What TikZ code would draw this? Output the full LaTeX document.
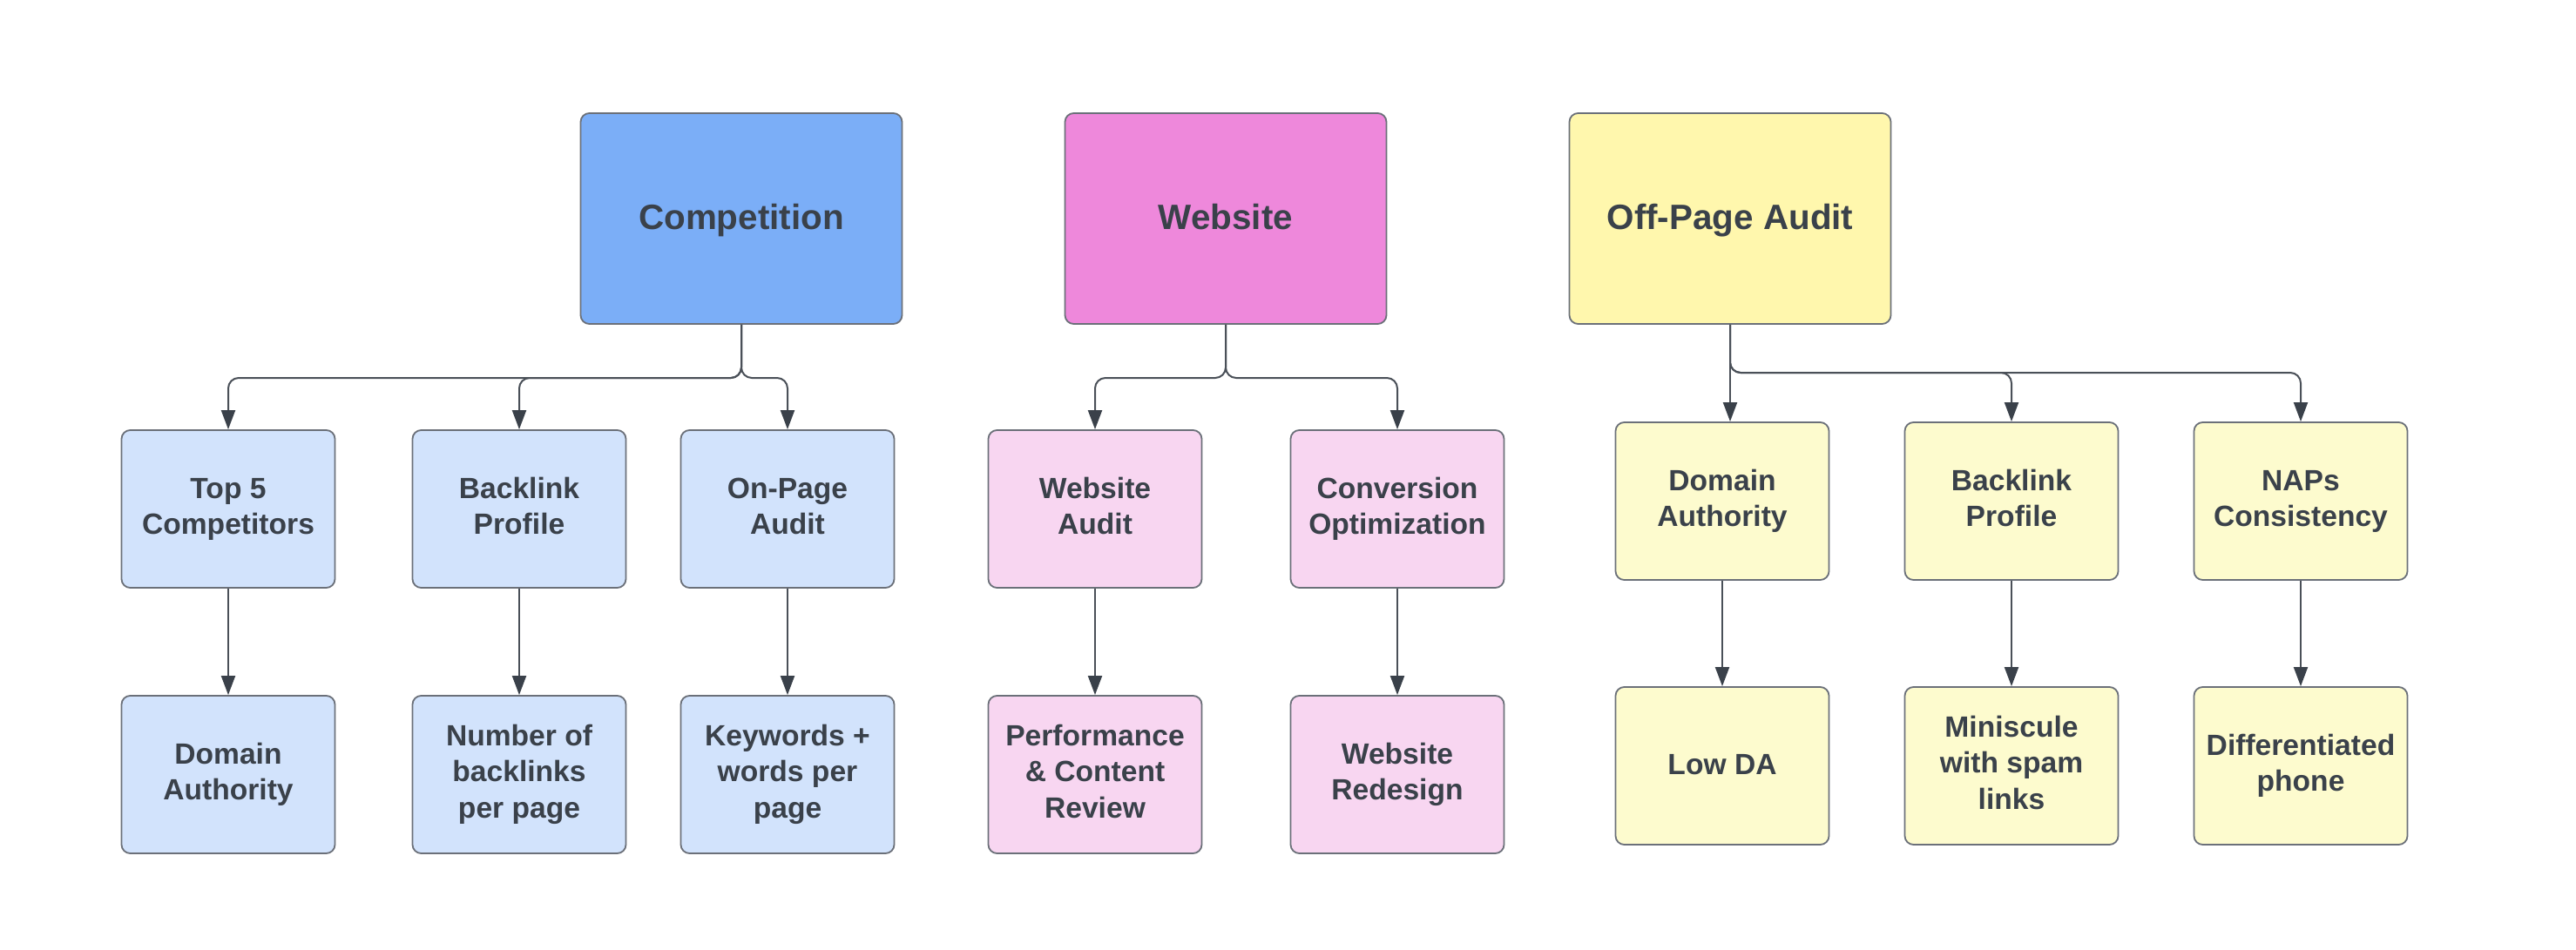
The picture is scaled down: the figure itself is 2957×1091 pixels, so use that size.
\documentclass[tikz,border=0pt]{standalone}
\usepackage{fontspec}
\setmainfont{Liberation Sans}
\usetikzlibrary{arrows.meta}
\definecolor{textdark}{HTML}{3A414A}
\definecolor{bordergray}{HTML}{6B7079}
\definecolor{linegray}{HTML}{4A5058}
\definecolor{compTop}{HTML}{7BAEF7}
\definecolor{compSub}{HTML}{D2E3FC}
\definecolor{webTop}{HTML}{EE88DB}
\definecolor{webSub}{HTML}{F8D6F1}
\definecolor{offTop}{HTML}{FFF7AD}
\definecolor{offSub}{HTML}{FDFBCE}
\newcommand\topstrutx[1]{\rule{0pt}{\dimexpr0.7\baselineskip+#1\relax}}
\newcommand\lbl[1]{\begin{tabular}{@{}c@{}}\topstrutx{3.5pt}#1\end{tabular}}
\tikzset{
  basebox/.style={draw=bordergray, line width=0.9pt, rounded corners=5pt,
    text=textdark, inner sep=0pt, font=\bfseries\fontsize{16.8}{20.8}\selectfont},
  topbox/.style={basebox, minimum width=184.5pt, minimum height=121pt,
    font=\bfseries\fontsize{20.2}{24}\selectfont, text height=17pt, text depth=4pt},
  subbox/.style={basebox, minimum width=122.5pt, minimum height=90.5pt},
  oneline/.style={text height=14.5pt, text depth=5pt},
  conn/.style={draw=linegray, line width=1pt, rounded corners=6pt,
    -{Triangle[length=11pt,width=8pt,color=textdark]}},
}
\begin{document}
\begin{tikzpicture}[x=0.5pt,y=-0.5pt]
\useasboundingbox[fill=white] (0,0) rectangle (2957,1091);
% top boxes
\node[topbox, fill=compTop] (comp) at (851,251) {Competition};
\node[topbox, fill=webTop] (web) at (1407,251) {Website};
\node[topbox, fill=offTop] (off) at (1986,251) {Off-Page Audit};
% competition children
\node[subbox, fill=compSub] (c1) at (262,584.5) {\lbl{Top 5\\Competitors}};
\node[subbox, fill=compSub] (c2) at (596,584.5) {\lbl{Backlink\\Profile}};
\node[subbox, fill=compSub] (c3) at (904,584.5) {\lbl{On-Page\\Audit}};
\node[subbox, fill=compSub] (g1) at (262,889.5) {\lbl{Domain\\Authority}};
\node[subbox, fill=compSub] (g2) at (596,889.5) {\lbl{Number of\\backlinks\\per page}};
\node[subbox, fill=compSub] (g3) at (904,889.5) {\lbl{Keywords +\\words per\\page}};
% website children
\node[subbox, fill=webSub] (w1) at (1257,584.5) {\lbl{Website\\Audit}};
\node[subbox, fill=webSub] (w2) at (1604,584.5) {\lbl{Conversion\\Optimization}};
\node[subbox, fill=webSub] (v1) at (1257,889.5) {\lbl{Performance\\\& Content\\Review}};
\node[subbox, fill=webSub] (v2) at (1604,889.5) {\lbl{Website\\Redesign}};
% off-page children
\node[subbox, fill=offSub] (o1) at (1977,575.5) {\lbl{Domain\\Authority}};
\node[subbox, fill=offSub] (o2) at (2309,575.5) {\lbl{Backlink\\Profile}};
\node[subbox, fill=offSub] (o3) at (2641,575.5) {\lbl{NAPs\\Consistency}};
\node[subbox, oneline, fill=offSub] (p1) at (1977,879.5) {Low DA};
\node[subbox, fill=offSub] (p2) at (2309,879.5) {\lbl{Miniscule\\with spam\\links}};
\node[subbox, fill=offSub] (p3) at (2641,879.5) {\lbl{Differentiated\\phone}};
% branch points
\coordinate (cb) at (851,434);
\coordinate (wb) at (1407,434);
\coordinate (ob) at (1986,428);
% competition connectors
\draw[conn] (comp.south) -- (cb) -| (c1.north);
\draw[conn] (comp.south) -- (cb) -| (c2.north);
\draw[conn] (comp.south) -- (cb) -| (c3.north);
\draw[conn] (c1) -- (g1);
\draw[conn] (c2) -- (g2);
\draw[conn] (c3) -- (g3);
% website connectors
\draw[conn] (web.south) -- (wb) -| (w1.north);
\draw[conn] (web.south) -- (wb) -| (w2.north);
\draw[conn] (w1) -- (v1);
\draw[conn] (w2) -- (v2);
% off-page connectors
\draw[conn] (off.south) -- (off.south |- o1.north);
\draw[conn] (off.south) -- (ob) -| (o2.north);
\draw[conn] (off.south) -- (ob) -| (o3.north);
\draw[conn] (o1) -- (p1);
\draw[conn] (o2) -- (p2);
\draw[conn] (o3) -- (p3);
\end{tikzpicture}
\end{document}
